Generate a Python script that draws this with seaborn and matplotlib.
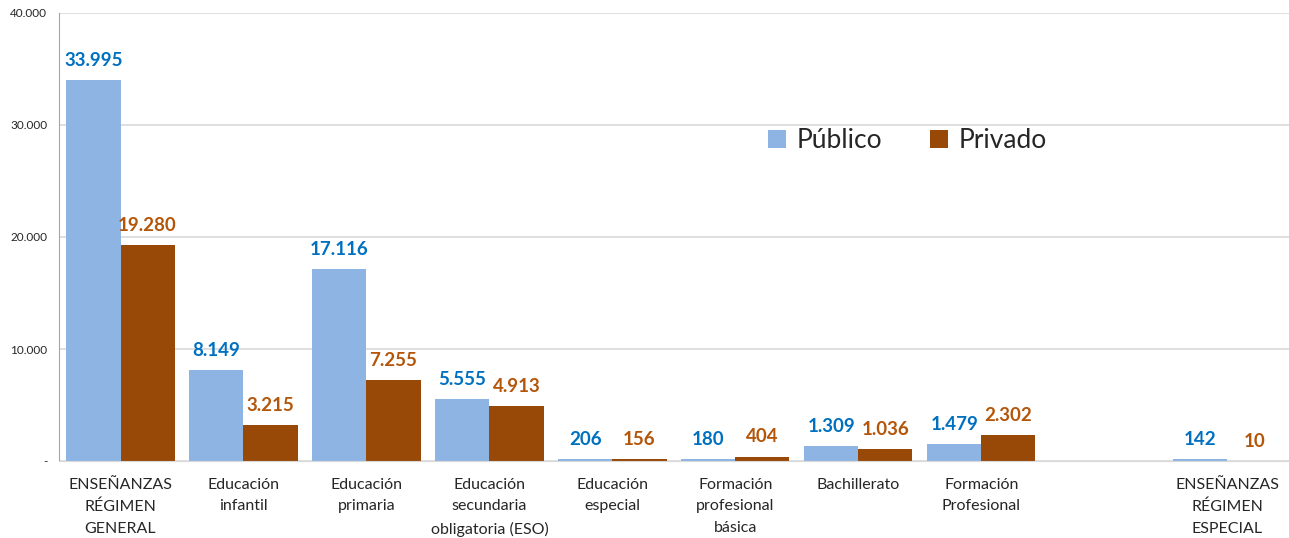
import numpy as np
import pandas as pd
import matplotlib
matplotlib.use("Agg")
import matplotlib.pyplot as plt
import seaborn as sns

# --- data ---
categories = [
    "ENSEÑANZAS\nRÉGIMEN\nGENERAL",
    "Educación\ninfantil",
    "Educación\nprimaria",
    "Educación\nsecundaria\nobligatoria (ESO)",
    "Educación\nespecial",
    "Formación\nprofesional\nbásica",
    "Bachillerato",
    "Formación\nProfesional",
    " ",
    "ENSEÑANZAS\nRÉGIMEN\nESPECIAL",
]
publico = [33995, 8149, 17116, 5555, 206, 180, 1309, 1479, np.nan, 142]
privado = [19280, 3215, 7255, 4913, 156, 404, 1036, 2302, np.nan, 10]
series = ["Público", "Privado"]
y_ticks = [0, 10000, 20000, 30000, 40000]
y_tick_labels = ["-", "10.000", "20.000", "30.000", "40.000"]

BLUE = "#8EB4E3"
BROWN = "#984807"
BLUE_TXT = "#0070C0"
BROWN_TXT = "#B4560A"

df = pd.DataFrame({
    "cat": categories * 2,
    "serie": [series[0]] * len(categories) + [series[1]] * len(categories),
    "val": publico + privado,
})

sns.set_style("white")
plt.rcParams["font.family"] = ["Lato", "DejaVu Sans"]

fig = plt.figure(figsize=(12.89, 5.38), dpi=100)
ax = fig.add_axes([0.0458, 0.143, 0.954, 0.833])

sns.barplot(data=df, x="cat", y="val", hue="serie", order=categories,
            hue_order=series, palette=[BLUE, BROWN], width=0.88, gap=0,
            saturation=1, ax=ax, errorbar=None, linewidth=0)

fmt = lambda v: f"{v:,.0f}".replace(",", ".")
for cont, col in zip(ax.containers, [BLUE_TXT, BROWN_TXT]):
    ax.bar_label(cont, fmt=fmt, padding=8, color=col, fontsize=13.5,
                 fontweight="bold")

ax.set_ylim(0, 40000)
ax.set_xlim(-0.5, len(categories) - 0.5)
ax.set_yticks(y_ticks)
ax.set_yticklabels(y_tick_labels, fontsize=8.5)
ax.yaxis.grid(True, color="#D9D9D9", linewidth=1.2)
ax.set_axisbelow(True)
ax.set_xlabel("")
ax.set_ylabel("")

ax.tick_params(axis="x", which="major", length=0, labelsize=11.5, pad=12)
for lbl in ax.get_xticklabels():
    lbl.set_linespacing(1.7)
ax.set_xticks(np.arange(-0.5, len(categories)), minor=True)
ax.tick_params(axis="x", which="minor", length=5, color="#A6A6A6", width=1)
ax.tick_params(axis="y", length=5, color="#A6A6A6", width=1)

for s in ["top", "right"]:
    ax.spines[s].set_visible(False)
ax.spines["left"].set_color("#A6A6A6")
ax.spines["bottom"].set_color("#D9D9D9")

leg = ax.legend(loc="center", bbox_to_anchor=(0.69, 0.715), ncol=2,
                frameon=False, fontsize=19, handlelength=0.7, handleheight=0.7,
                columnspacing=1.8, handletextpad=0.4)

fig.savefig("out.png", dpi=100)
